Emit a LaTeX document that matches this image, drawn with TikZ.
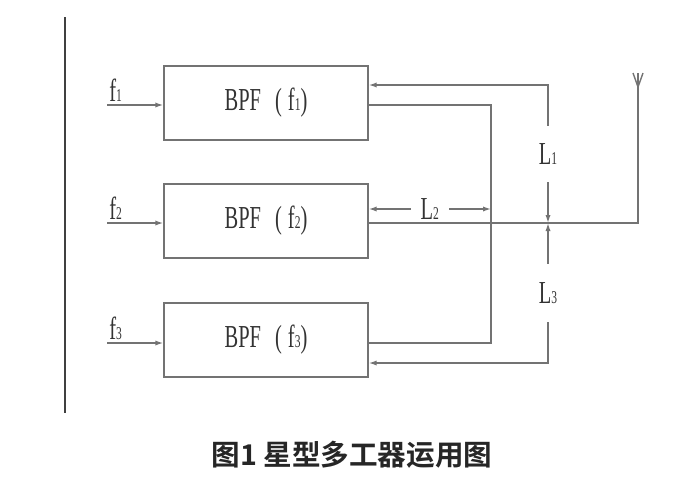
\documentclass[tikz,border=0pt]{standalone}
\usepackage{fontspec}
\setmainfont[FakeStretch=0.64]{Liberation Serif}
\newfontfamily\cjk[BoldFont={Noto Sans CJK SC Bold}]{Noto Sans CJK SC}
\usetikzlibrary{arrows.meta}
\newcommand\sub[1]{{\fontsize{9}{9}\selectfont #1}}

\begin{document}
\begin{tikzpicture}[x=0.5pt,y=-0.5pt,
  line/.style={draw=black!55,line width=0.7pt},
  tip/.style={-{Latex[length=4pt,width=2.6pt]}},
  both/.style={{Latex[length=4pt,width=2.6pt]}-{Latex[length=4pt,width=2.6pt]}},
  txt/.style={font=\fontsize{16}{16}\selectfont,text=black!80},
  bpf/.style={line,txt,minimum width=102pt,minimum height=37pt,inner sep=0pt},
  lbl/.style={txt,inner sep=0pt},
  gap/.style={txt,fill=white,inner xsep=5pt,inner ysep=0pt}]
\useasboundingbox (0,0) rectangle (700,482);
% left rule
\coordinate (vt) at (65,17);
\coordinate (vb) at (65,413);
\draw[draw=black!75,line width=1pt] (vt) -- (vb);
% filters
\node[bpf] (b1) at (266,103) {BPF\hspace{7pt}(\hspace{3pt}f\sub{1})\hspace{4pt}};
\node[bpf] (b2) at (266,221) {BPF\hspace{7pt}(\hspace{3pt}f\sub{2})\hspace{4pt}};
\node[bpf] (b3) at (266,340) {BPF\hspace{7pt}(\hspace{3pt}f\sub{3})\hspace{4pt}};
% inputs
\coordinate (i1) at (107,105);
\coordinate (i2) at (107,223);
\coordinate (i3) at (107,343);
\draw[line,tip] (i1) -- (i1 -| b1.west);
\draw[line,tip] (i2) -- (i2 -| b2.west);
\draw[line,tip] (i3) -- (i3 -| b3.west);
\node[lbl,anchor=base west] (f1) at (109,101) {f\sub{1}};
\node[lbl,anchor=base west] (f2) at (109,219) {f\sub{2}};
\node[lbl,anchor=base west] (f3) at (109,339) {f\sub{3}};
% lengths
\coordinate (jn) at (548,223);
\coordinate (t1) at (548,85);
\coordinate (t2) at (491,209);
\coordinate (t3) at (548,363);
\draw[line,both] (jn) -- node[gap,inner ysep=9pt] (L1) {L\sub{1}} (t1) -- (t1 -| b1.east);
\draw[line,both] (t2 -| b2.east) -- node[gap] (L2) {L\sub{2}} (t2);
\draw[line,both] (jn) -- node[gap,inner ysep=9pt] (L3) {L\sub{3}} (t3) -- (t3 -| b3.east);
% outputs
\coordinate (rt) at (491,105);
\draw[line] (b1.east |- i1) -| (rt) |- (b3.east |- i3);
\coordinate (ant) at (638,73);
\coordinate (antj) at (638,87);
\draw[line] (b2.east |- i2) -| (ant);
\draw[line] (antj) -- ++(-5,-14) (antj) -- ++(5,-14);
% caption
\node[font=\cjk\bfseries\fontsize{14.3}{14.3}\selectfont,text=black!85] (cap) at (352,455) {图1 星型多工器运用图};
\end{tikzpicture}
\end{document}
